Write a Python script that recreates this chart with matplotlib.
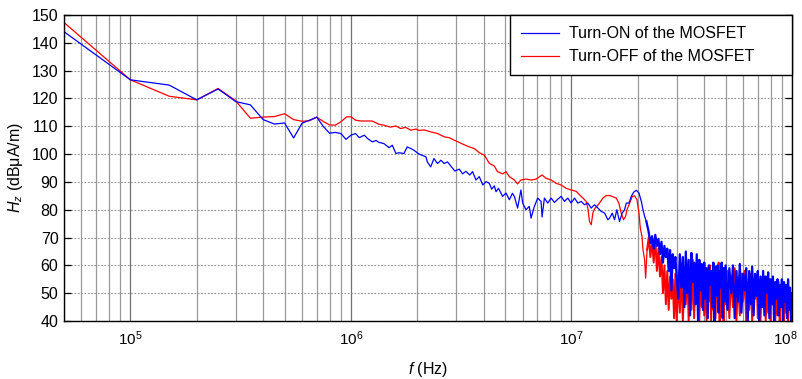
import numpy as np
import matplotlib.pyplot as plt
import matplotlib.transforms as mtransforms
from matplotlib.ticker import LogLocator, MultipleLocator, NullFormatter

plt.rcParams['font.family'] = ['Liberation Sans', 'DejaVu Sans']
plt.rcParams['mathtext.fontset'] = 'custom'
plt.rcParams['mathtext.rm'] = 'Liberation Sans'
plt.rcParams['mathtext.it'] = 'Liberation Sans:italic'
plt.rcParams['mathtext.default'] = 'regular'

# Частоты в МГц, уровни поля в дБмкА/м

# Включение транзистора: сглаженная часть спектра до 22 МГц
f_on_lo = [0.05, 0.10, 0.15, 0.20, 0.25, 0.30, 0.35, 0.40, 0.45, 0.50,
           0.55, 0.60, 0.65, 0.70, 0.75, 0.80, 0.85, 0.90, 0.95, 1.00,
           1.05, 1.09, 1.15, 1.19, 1.25, 1.30, 1.34, 1.41, 1.49, 1.54,
           1.60, 1.65, 1.74, 1.80, 1.87, 1.93, 2.02, 2.07, 2.19, 2.22,
           2.30, 2.38, 2.47, 2.56, 2.65, 2.74, 2.82, 2.96, 3.10, 3.21,
           3.32, 3.46, 3.56, 3.69, 3.82, 3.96, 4.10, 4.24, 4.35, 4.47,
           4.55, 4.67, 4.87, 5.05, 5.23, 5.40, 5.51, 5.70, 5.90, 6.01,
           6.22, 6.44, 6.56, 6.79, 7.03, 7.28, 7.36, 7.54, 7.81, 8.09,
           8.37, 8.67, 8.98, 9.30, 9.62, 9.97, 10.33, 10.69, 11.07, 11.46,
           11.87, 12.29, 12.72, 13.18, 13.64, 14.13, 14.63, 14.89, 15.31, 15.68,
           16.07, 16.52, 16.99, 17.41, 17.73, 18.24, 18.68, 19.14, 19.68, 20.24,
           20.74, 21.11, 21.47, 21.87]
h_on_lo = [144.0, 126.7, 124.8, 119.5, 123.4, 118.9, 117.7, 112.4, 110.8, 111.2,
           105.8, 111.1, 112.2, 113.3, 109.9, 107.5, 107.8, 107.4, 105.3, 106.8,
           107.4, 105.9, 106.8, 105.6, 104.4, 104.9, 104.2, 103.8, 102.3, 103.2,
           100.2, 100.5, 100.2, 102.6, 102.0, 101.4, 100.2, 99.8, 99.0, 97.2,
           95.4, 98.4, 96.6, 97.8, 96.6, 97.2, 96.0, 93.9, 94.6, 92.9,
           93.8, 92.5, 93.7, 90.7, 91.9, 88.9, 90.1, 89.5, 87.4, 88.6,
           86.5, 87.7, 84.8, 86.0, 83.6, 85.9, 84.8, 80.6, 87.1, 82.4,
           80.0, 81.2, 77.0, 81.2, 84.2, 83.0, 77.4, 84.2, 82.4, 84.2,
           82.6, 83.8, 84.8, 83.0, 84.2, 82.4, 84.2, 82.4, 83.0, 81.8,
           82.4, 80.6, 81.8, 80.6, 79.4, 78.8, 76.4, 77.0, 78.8, 76.4,
           80.0, 75.8, 78.8, 80.0, 82.4, 82.4, 84.8, 86.3, 87.0, 86.0,
           83.0, 80.0, 77.6, 75.8]

# Выключение транзистора: сглаженная часть спектра до 22 МГц
f_off_lo = [0.05, 0.10, 0.15, 0.20, 0.25, 0.30, 0.35, 0.40, 0.45, 0.50,
            0.55, 0.60, 0.65, 0.70, 0.75, 0.80, 0.85, 0.90, 0.956, 1.00,
            1.05, 1.107, 1.18, 1.25, 1.34, 1.41, 1.51, 1.60, 1.68, 1.77,
            1.87, 1.97, 2.04, 2.15, 2.30, 2.47, 2.65, 2.79, 2.94, 3.10,
            3.21, 3.44, 3.63, 3.82, 4.03, 4.24, 4.47, 4.62, 4.87, 5.05,
            5.23, 5.51, 5.70, 5.90, 6.22, 6.56, 6.91, 7.36, 7.67, 8.09,
            8.51, 8.98, 9.46, 9.97, 10.51, 10.87, 11.27, 11.66, 11.87, 12.07,
            12.29, 12.51, 12.72, 13.03, 13.40, 13.89, 14.38, 14.89, 15.41, 15.96,
            16.40, 16.81, 17.22, 17.60, 17.86, 18.36, 18.88, 19.34, 19.82, 20.24,
            20.52, 20.89, 21.11, 21.47, 21.70, 22.03]
h_off_lo = [147.3, 126.7, 120.8, 119.5, 123.6, 119.2, 112.9, 113.3, 113.5, 114.5,
            112.4, 111.8, 112.0, 113.3, 111.7, 110.5, 110.4, 111.6, 113.4, 113.4,
            112.2, 111.9, 111.9, 111.9, 110.7, 110.4, 109.7, 110.1, 109.2, 109.6,
            108.6, 109.0, 108.5, 108.7, 108.0, 107.4, 106.2, 105.9, 105.0, 104.2,
            103.6, 102.6, 102.0, 100.5, 99.6, 96.7, 95.7, 93.7, 92.9, 93.7,
            91.9, 90.7, 89.3, 90.7, 91.0, 90.7, 91.0, 92.5, 91.3, 90.7,
            89.5, 88.9, 87.7, 87.1, 86.6, 85.4, 84.2, 83.0, 80.6, 75.8,
            74.6, 78.8, 80.3, 81.2, 82.4, 84.2, 85.1, 85.1, 84.7, 84.2,
            82.4, 78.8, 76.4, 77.6, 80.0, 82.4, 84.8, 85.0, 83.6, 78.8,
            73.4, 70.4, 65.6, 62.0, 55.4, 65.6]

# Шумовая часть спектра выше 22 МГц (общая сетка частот)
f_hf = [22.4, 22.8, 23.2, 23.6, 24.0, 24.4, 24.8, 25.2, 25.6, 26.0,
        26.4, 26.8, 27.2, 27.6, 28.0, 28.4, 28.8, 29.2, 29.6, 30.0,
        30.5, 31.0, 31.5, 32.0, 32.5, 33.0, 33.5, 34.0, 34.5, 35.0,
        35.5, 36.0, 36.5, 37.0, 37.5, 38.0, 38.5, 39.0, 39.5, 40.0,
        40.5, 41.0, 41.5, 42.0, 42.5, 43.0, 43.5, 44.0, 44.5, 45.0,
        45.5, 46.0, 46.5, 47.0, 47.5, 48.0, 48.5, 49.0, 49.5, 50.0,
        51, 52, 53, 54, 55, 56, 57, 58, 59, 60,
        61, 62, 63, 64, 65, 66, 67, 68, 69, 70,
        71, 72, 73, 74, 75, 76, 77, 78, 79, 80,
        81, 82, 83, 84, 85, 86, 87, 88, 89, 90,
        91, 92, 93, 94, 95, 96, 97, 98, 99, 100]
h_on_hf = [72.0, 68.0, 70.5, 66.0, 71.0, 67.0, 69.5, 64.0, 68.5, 61.0,
           67.0, 63.0, 66.0, 58.0, 65.5, 51.0, 64.0, 59.0, 63.0, 56.0,
           48.0, 64.0, 52.0, 63.0, 45.0, 65.0, 50.0, 62.0, 42.0, 64.5,
           54.0, 61.0, 46.0, 64.0, 40.0, 62.0, 51.0, 60.5, 44.0, 61.0,
           48.0, 59.0, 41.0, 60.0, 53.0, 58.0, 45.0, 61.0, 40.0, 59.5,
           49.0, 60.0, 43.0, 58.0, 52.0, 61.0, 41.0, 59.0, 47.0, 60.0,
           44.0, 59.0, 50.0, 60.0, 41.0, 58.0, 47.0, 60.5, 43.0, 57.0,
           51.0, 59.0, 40.0, 58.0, 46.0, 59.5, 42.0, 57.0, 49.0, 58.0,
           40.0, 56.0, 45.0, 58.0, 42.0, 56.0, 50.0, 57.5, 41.0, 55.0,
           46.0, 56.0, 40.0, 54.0, 48.0, 55.0, 42.0, 53.0, 45.0, 55.0,
           40.0, 54.0, 47.0, 53.0, 41.0, 55.0, 44.0, 52.0, 40.0, 50.0]
h_off_hf = [70.0, 63.0, 69.0, 61.0, 70.0, 58.0, 66.0, 56.0, 63.0, 50.0,
            60.0, 46.0, 58.0, 44.0, 56.0, 48.0, 55.0, 41.0, 57.0, 40.0,
            55.0, 43.0, 57.0, 40.0, 54.0, 46.0, 60.0, 40.0, 56.0, 44.0,
            62.0, 41.0, 58.0, 48.0, 61.0, 40.0, 57.0, 45.0, 60.0, 42.0,
            59.0, 40.0, 56.0, 47.0, 60.0, 40.0, 55.0, 44.0, 59.0, 41.0,
            57.0, 49.0, 61.0, 40.0, 56.0, 43.0, 58.0, 40.0, 55.0, 46.0,
            58.0, 41.0, 56.0, 45.0, 59.0, 40.0, 55.0, 42.0, 57.0, 47.0,
            58.0, 40.0, 54.0, 44.0, 57.0, 40.0, 55.0, 48.0, 56.0, 41.0,
            55.0, 40.0, 53.0, 45.0, 56.0, 40.0, 52.0, 43.0, 55.0, 40.0,
            54.0, 46.0, 53.0, 40.0, 52.0, 42.0, 54.0, 40.0, 51.0, 45.0,
            53.0, 40.0, 50.0, 43.0, 52.0, 40.0, 51.0, 44.0, 50.0, 41.0]

BLUE = '#0000ff'
RED = '#ff0000'

fig = plt.figure(figsize=(8.02, 3.79), dpi=100)
ax = fig.add_axes([0.0798, 0.153, 0.9077, 0.8074])

# Сначала гладкие участки, затем шумовой хвост более толстой линией
ax.plot(np.array(f_off_lo) * 1e6, h_off_lo, color=RED, lw=0.9)
ax.plot(np.array(f_off_lo[-1:] + f_hf) * 1e6, h_off_lo[-1:] + h_off_hf,
        color=RED, lw=1.4)
ax.plot(np.array(f_on_lo) * 1e6, h_on_lo, color=BLUE, lw=0.9)
ax.plot(np.array(f_on_lo[-1:] + f_hf) * 1e6, h_on_lo[-1:] + h_on_hf,
        color=BLUE, lw=1.6)

ax.set_xscale('log')
ax.set_xlim(5e4, 1e8)
ax.set_ylim(40, 150)
ax.yaxis.set_major_locator(MultipleLocator(10))
ax.xaxis.set_major_locator(LogLocator(base=10, numticks=10))
ax.xaxis.set_minor_locator(LogLocator(base=10, subs=np.arange(2, 10), numticks=20))
ax.xaxis.set_minor_formatter(NullFormatter())

# Сетка: вертикальные линии сплошные, горизонтальные пунктирные
ax.grid(True, which='major', axis='x', color='#707070', lw=0.9, ls='-')
ax.grid(True, which='minor', axis='x', color='#999999', lw=0.9, ls='-')
ax.grid(True, which='major', axis='y', color='#909090', lw=0.8, ls=(0, (1.5, 1.5)))
ax.set_axisbelow(True)

ax.tick_params(axis='y', direction='in', length=5, width=0.9, right=True,
               labelsize=11.5, pad=4)
ax.tick_params(axis='x', which='both', length=0, labelsize=11, pad=6)
for s in ax.spines.values():
    s.set_linewidth(1.0)

ax.set_xlabel(r'$\mathit{f}$ (Hz)', fontsize=11.5, labelpad=9)
ax.set_ylabel(r'$\mathit{H_z}$ (dBμA/m)', fontsize=11.5, labelpad=5)

h_on_leg, = ax.plot([], [], color=BLUE, lw=0.9)
h_off_leg, = ax.plot([], [], color=RED, lw=0.9)
leg = ax.legend([h_on_leg, h_off_leg],
                ['Turn-ON of the MOSFET', 'Turn-OFF of the MOSFET'],
                loc='upper right', bbox_to_anchor=(0.6126, 0.0, 0.3874, 1.0),
                mode='expand', borderaxespad=0, fancybox=False,
                edgecolor='black', framealpha=1, fontsize=11.5,
                handlelength=2.4, handletextpad=0.6, borderpad=0.7,
                labelspacing=0.5)
leg.get_frame().set_linewidth(1.0)

# подпись 10^8 у правого края немного сдвигаем влево
fig.canvas.draw()
shift = mtransforms.ScaledTranslation(-5 / 72, 0, fig.dpi_scale_trans)
for tick in ax.xaxis.get_major_ticks():
    if np.isclose(tick.get_loc(), 1e8):
        tick.label1.set_transform(tick.label1.get_transform() + shift)

plt.savefig('out.png', dpi=100)
